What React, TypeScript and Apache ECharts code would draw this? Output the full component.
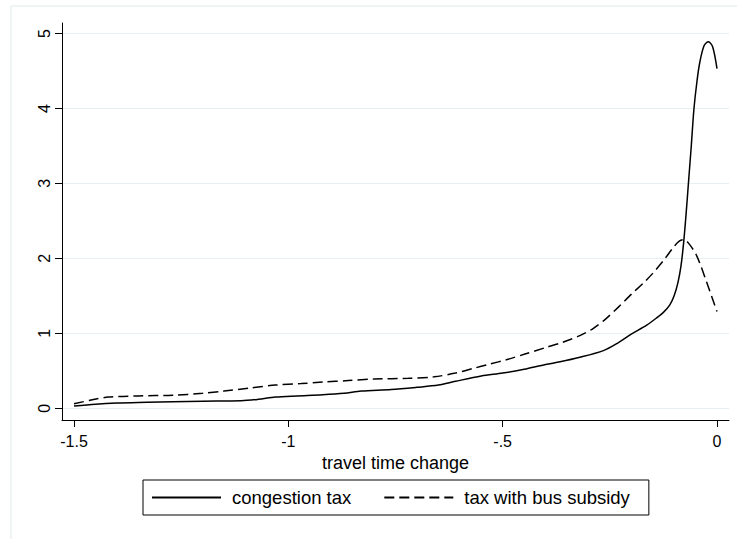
import React, { useEffect, useRef } from "react";
import * as echarts from "echarts";

const xTicks = [-1.5, -1, -0.5, 0];
const xTickLabels = ["-1.5", "-1", "-.5", "0"];
const yTicks = [0, 1, 2, 3, 4, 5];
const yTickLabels = ["0", "1", "2", "3", "4", "5"];

const congestionX = [-1.5, -1.45, -1.4, -1.33, -1.27, -1.2, -1.11, -1.07, -1.03, -0.98, -0.92, -0.87, -0.83, -0.76, -0.7, -0.65, -0.61, -0.55, -0.5, -0.45, -0.4, -0.366, -0.32, -0.265, -0.235, -0.2, -0.164, -0.14, -0.125, -0.11, -0.1, -0.091, -0.084, -0.078, -0.072, -0.066, -0.06, -0.054, -0.047, -0.04, -0.03, -0.02, -0.01, 0];
const congestionY = [0.03, 0.055, 0.07, 0.08, 0.088, 0.095, 0.1, 0.12, 0.15, 0.165, 0.18, 0.2, 0.23, 0.25, 0.28, 0.31, 0.36, 0.43, 0.47, 0.52, 0.585, 0.62, 0.68, 0.77, 0.86, 0.99, 1.11, 1.21, 1.28, 1.38, 1.5, 1.68, 1.9, 2.2, 2.6, 3.05, 3.5, 3.98, 4.35, 4.62, 4.84, 4.89, 4.82, 4.53];

const subsidyX = [-1.5, -1.46, -1.42, -1.35, -1.27, -1.2, -1.15, -1.09, -1.03, -0.97, -0.92, -0.86, -0.8, -0.72, -0.66, -0.61, -0.57, -0.53, -0.49, -0.45, -0.4, -0.36, -0.32, -0.29, -0.26, -0.23, -0.2, -0.17, -0.15, -0.125, -0.1, -0.088, -0.078, -0.066, -0.047, -0.024, 0];
const subsidyY = [0.06, 0.11, 0.15, 0.165, 0.175, 0.2, 0.23, 0.27, 0.31, 0.33, 0.35, 0.37, 0.39, 0.4, 0.42, 0.47, 0.53, 0.59, 0.65, 0.72, 0.81, 0.88, 0.97, 1.06, 1.19, 1.35, 1.52, 1.68, 1.8, 1.97, 2.16, 2.23, 2.25, 2.2, 2.03, 1.68, 1.29];

const seriesNames = ["congestion tax", "tax with bus subsidy"];
const xTitle = "travel time change";

const FONT = "'Liberation Sans', Arial, Helvetica, sans-serif";

export default function App() {
  const ref = useRef<HTMLDivElement>(null);
  useEffect(() => {
    if (!ref.current) return;
    const chart = echarts.init(ref.current, undefined, { renderer: "svg" });
    const zip = (xs: number[], ys: number[]) => xs.map((x, i) => [x, ys[i]]);
    chart.setOption({
      animation: false,
      backgroundColor: "#ffffff",
      textStyle: { fontFamily: FONT },
      graphic: [
        {
          type: "rect",
          left: 8.5,
          top: 3.5,
          shape: { x: 0, y: 0, width: 740, height: 560 },
          style: { fill: "none", stroke: "#dfe9eb", lineWidth: 1 },
          silent: true,
          z: -1,
        },
      ],
      grid: { left: 62, right: 8, top: 23, bottom: 119, containLabel: false },
      legend: {
        left: 143,
        top: 480,
        orient: "horizontal",
        data: seriesNames,
        padding: [8, 19, 8, 8],
        itemWidth: 69,
        itemHeight: 14,
        itemGap: 32,
        borderColor: "#000",
        borderWidth: 1,
        borderRadius: 0,
        itemStyle: { opacity: 0, borderWidth: 0 },
        textStyle: { fontSize: 18.5, color: "#000", fontFamily: FONT, padding: [0, 0, 0, 6] },
      },
      xAxis: {
        type: "value",
        min: -1.528,
        max: 0.028,
        name: xTitle,
        nameLocation: "middle",
        nameGap: 31,
        nameTextStyle: { fontSize: 18, color: "#000", fontFamily: FONT },
        axisLine: { onZero: false, lineStyle: { color: "#000", width: 1 } },
        axisTick: { length: 7, customValues: xTicks, lineStyle: { color: "#000" } },
        axisLabel: {
          customValues: xTicks,
          margin: 13,
          fontSize: 16,
          color: "#000",
          fontFamily: FONT,
          formatter: (v: number) => {
            const i = xTicks.findIndex((t) => Math.abs(t - v) < 1e-9);
            return i >= 0 ? xTickLabels[i] : "";
          },
        },
        splitLine: { show: false },
      },
      yAxis: {
        type: "value",
        min: -0.156,
        max: 5.14,
        axisLine: { show: true, onZero: false, lineStyle: { color: "#000", width: 1 } },
        axisTick: { show: true, length: 7, customValues: yTicks, lineStyle: { color: "#000" } },
        axisLabel: {
          customValues: yTicks,
          rotate: 90,
          margin: 10,
          fontSize: 16,
          color: "#000",
          fontFamily: FONT,
          formatter: (v: number) => {
            const i = yTicks.findIndex((t) => Math.abs(t - v) < 1e-9);
            return i >= 0 ? yTickLabels[i] : "";
          },
        },
        splitLine: { show: true, lineStyle: { color: "#e6eff1", width: 1 } },
      },
      series: [
        {
          name: seriesNames[0],
          type: "line",
          data: zip(congestionX, congestionY),
          showSymbol: false,
          symbol: "none",
          smooth: 0.3,
          lineStyle: { color: "#000", width: 1.5, type: "solid" },
          itemStyle: { color: "#000" },
        },
        {
          name: seriesNames[1],
          type: "line",
          data: zip(subsidyX, subsidyY),
          showSymbol: false,
          symbol: "none",
          smooth: 0.3,
          lineStyle: { color: "#000", width: 1.5, type: [10, 5] },
          itemStyle: { color: "#000" },
        },
      ],
    });
    return () => chart.dispose();
  }, []);
  return (
    <div
      ref={ref}
      style={{ position: "fixed", left: 0, top: 0, width: 737, height: 539 }}
    />
  );
}
